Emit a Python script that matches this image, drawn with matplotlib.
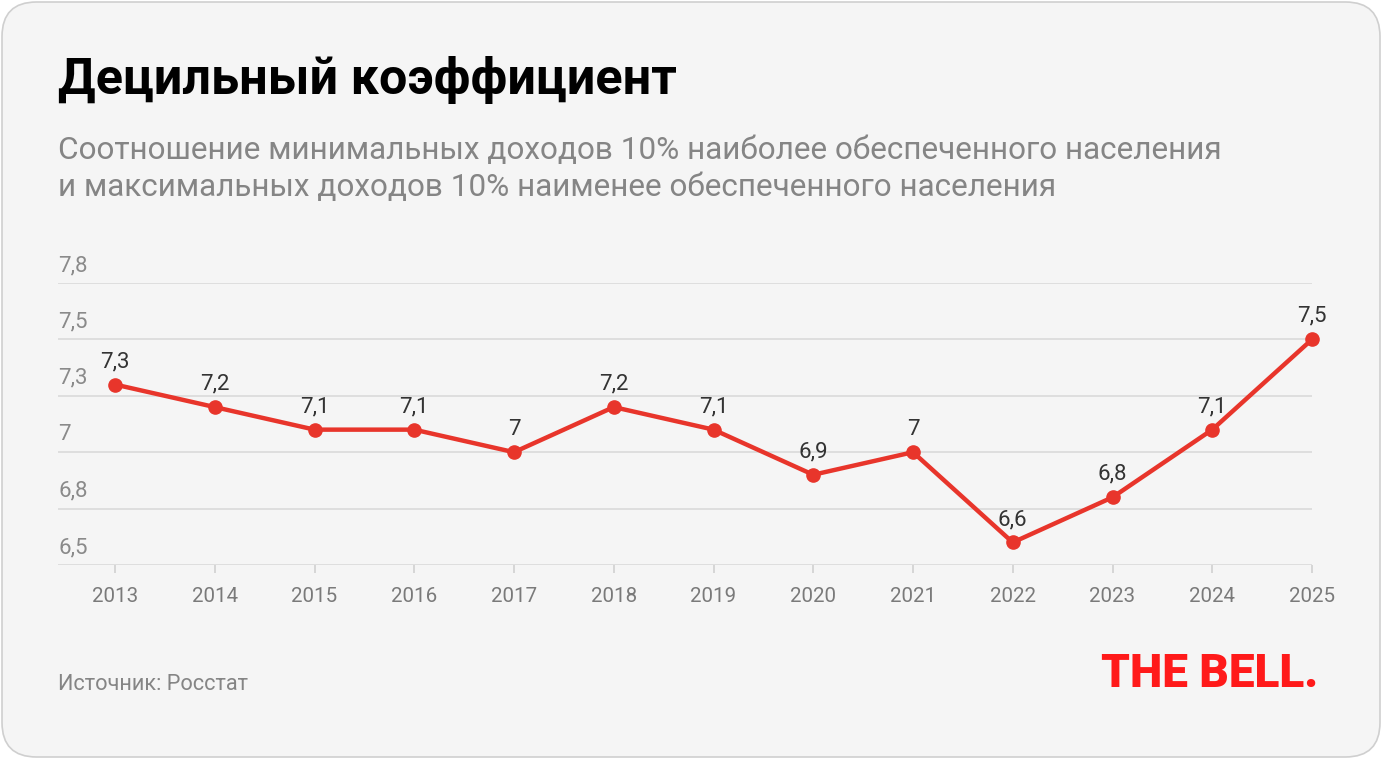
import matplotlib
matplotlib.use("Agg")
import matplotlib.pyplot as plt
from matplotlib.patches import FancyBboxPatch
from matplotlib.ticker import FixedLocator, FuncFormatter

years = [2013, 2014, 2015, 2016, 2017, 2018, 2019, 2020, 2021, 2022, 2023, 2024, 2025]
values = [7.3, 7.2, 7.1, 7.1, 7.0, 7.2, 7.1, 6.9, 7.0, 6.6, 6.8, 7.1, 7.5]
y_ticks = [6.5, 6.75, 7.0, 7.25, 7.5, 7.75]

title = "Децильный коэффициент"
subtitle = ("Соотношение минимальных доходов 10% наиболее обеспеченного населения\n"
            "и максимальных доходов 10% наименее обеспеченного населения")
source = "Источник: Росстат"
logo = "THE BELL."

plt.rcParams['font.family'] = ['Roboto', 'DejaVu Sans']

W, H = 1382, 759
fig = plt.figure(figsize=(W / 100, H / 100), dpi=100, facecolor='white')

card = FancyBboxPatch((2 / W, 2 / H), (W - 4) / W, (H - 4) / H,
                      boxstyle="round,pad=0,rounding_size=0.025",
                      transform=fig.transFigure, facecolor='#f5f5f5',
                      edgecolor='#cfcfcf', linewidth=1.2, mutation_aspect=W / H,
                      zorder=-10)
fig.patches.append(card)

def fx(px):
    return px / W

def fy(py):
    return 1 - py / H

def fmt(v):
    s = f"{v + 1e-9:.1f}".replace('.', ',')
    if s.endswith(',0'):
        s = s[:-2]
    return s

ax = fig.add_axes([fx(58), fy(565), fx(1312) - fx(58), fy(283) - fy(565)])
ax.set_zorder(5)
ax.set_facecolor('none')
ax.set_xlim(2013 - 57 / 99.75, 2025)
ax.set_ylim(6.5, 7.75)

for s in ax.spines.values():
    s.set_visible(False)

ax.yaxis.set_major_locator(FixedLocator(y_ticks))
ax.grid(axis='y', color='#dcdcdc', linewidth=1.3)
ax.set_axisbelow(True)
ax.tick_params(axis='y', length=0, labelsize=16, labelcolor='#8a8a8a', pad=0)
ax.yaxis.set_major_formatter(FuncFormatter(lambda v, p: ""))

for t in y_ticks:
    ax.annotate(fmt(t), xy=(0, t), xycoords=('axes fraction', 'data'),
                xytext=(0, 5), textcoords='offset points',
                ha='left', va='bottom', fontsize=16, color='#8a8a8a')

ax.set_xticks(years)
ax.set_xticklabels([str(y) for y in years])
ax.tick_params(axis='x', length=6, width=1.2, color='#d0d0d0',
               labelsize=14.8, labelcolor='#7a7a7a', pad=9.5)

red = '#e8352b'
ax.plot(years, values, color=red, linewidth=3.2, marker='o', markersize=9.5,
        markerfacecolor=red, markeredgecolor=red, solid_capstyle='round', zorder=3,
        clip_on=False)

for x, v in zip(years, values):
    ax.annotate(fmt(v), xy=(x, v), xytext=(0, 9), textcoords='offset points',
                ha='center', va='bottom', fontsize=16, color='#333333')

fig.text(fx(58), fy(80), title, fontsize=36.3, fontweight='bold', color='#000000',
         ha='left', va='center')
fig.text(fx(58), fy(169), subtitle, fontsize=22.7, color='#858585',
         ha='left', va='center', linespacing=1.3)
fig.text(fx(58), fy(684), source, fontsize=15.7, color='#858585',
         ha='left', va='center')
fig.text(fx(1318), fy(674), logo, fontsize=33, fontweight='black', color='#ff1a1a',
         ha='right', va='center')

fig.savefig("out.png", dpi=100, facecolor='white')
